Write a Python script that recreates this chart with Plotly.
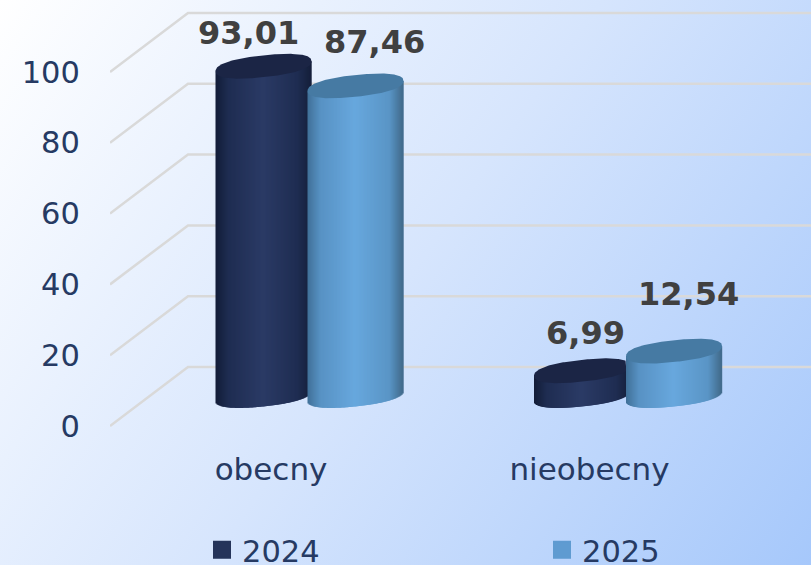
import base64
import numpy as np
import plotly.graph_objects as go

# --- data -------------------------------------------------------------
categories = ["obecny", "nieobecny"]
years = ["2024", "2025"]
values_2024 = [93.01, 6.99]
values_2025 = [87.46, 12.54]
y_ticks = [0, 20, 40, 60, 80, 100]

# --- style / layout constants ------------------------------------------
W, H = 811, 565
LEFT = 110
Y0_PX, PX_PER_UNIT = 426.0, 3.54
GROUP0_PX, GROUP_STEP_PX = 309.5, 318.5
FONT = "DejaVu Sans"
INK = "#263a63"
GRID = "#d9d9d9"
DEPTH_UNITS = 59 / PX_PER_UNIT      # back wall offset
BASE_UNITS = 30.5 / PX_PER_UNIT     # cylinder base offset
DEPTH_X = 78 / GROUP_STEP_PX
HALF_W = 48 / GROUP_STEP_PX
OFFSET = 46 / GROUP_STEP_PX
ELL_B = 10.9 / PX_PER_UNIT
ELL_K = 5.0 / PX_PER_UNIT
ELL_P = 0.85                        # slightly fuller than a true ellipse
CAT_SHIFT = -38.5 / GROUP_STEP_PX

RAMP_POS = [0, 0.14, 0.5, 0.86, 1]
STYLE = {
    "2024": dict(ramp=["#121c36", "#1f2d52", "#2b3b66", "#1f2d52", "#151f3b"], cap="#1b2545", key="#25345a"),
    "2025": dict(ramp=["#3f6f96", "#5892c4", "#68a8de", "#5a95c6", "#416a8a"], cap="#467aa3", key="#5f9bd1"),
}
LABEL_SHIFTS = {"2024": [(-15.5, 33), (3, 38)], "2025": [(19, 43.5), (14, 57.5)]}
LEGEND_LEFT_PX = {"2024": 202, "2025": 542}
LEGEND_MID_PX = 550

x_range = [(LEFT - GROUP0_PX) / GROUP_STEP_PX, (W - GROUP0_PX) / GROUP_STEP_PX]
y_range = [(Y0_PX - H) / PX_PER_UNIT, Y0_PX / PX_PER_UNIT]
plot_w = W - LEFT


def ramp_colors(ramp, u):
    rgb = np.array([[int(c[i:i + 2], 16) for i in (1, 3, 5)] for c in ramp], float)
    t = (u + 1) / 2
    return [
        "rgb(%d,%d,%d)" % tuple(np.interp(ti, RAMP_POS, rgb[:, k]) for k in range(3))
        for ti in t
    ]


fig = go.Figure()

# --- 3D grid: wall lines and side diagonals, behind the cylinders ------
shapes = []
for t in y_ticks:
    xa, xb, xc = x_range[0], x_range[0] + DEPTH_X, x_range[1]
    ya, yb = t, t + DEPTH_UNITS
    shapes.append(dict(type="path", xref="x", yref="y", layer="below",
                       path=f"M {xa} {ya} L {xb} {yb} L {xc} {yb}",
                       line=dict(color=GRID, width=2.5)))

# --- cylinders --------------------------------------------------------
series = [("2024", values_2024, -OFFSET), ("2025", values_2025, OFFSET)]
annotations = []
for i, cat in enumerate(categories):
    for year, vals, off in series:
        st = STYLE[year]
        val = vals[i]
        cx = i + off
        top = BASE_UNITS + val
        step = 1 / GROUP_STEP_PX
        strip = 2.2 * step
        xs = np.arange(cx - HALF_W + strip / 2, cx + HALF_W - strip / 2 + step / 2, step)
        u = (xs - cx) / HALF_W
        edge = np.clip(1 - np.abs(u) ** (2 / ELL_P), 0, 1) ** (ELL_P / 2)
        lower = BASE_UNITS + ELL_K * u - ELL_B * edge
        upper = top + ELL_K * u
        fig.add_trace(go.Bar(x=xs, y=upper - lower, base=lower, width=strip,
                             marker=dict(color=ramp_colors(st["ramp"], u), line=dict(width=0)),
                             hoverinfo="skip", showlegend=False))
        # top cap; stays behind a taller neighbour on its right
        t = np.linspace(0, 2 * np.pi, 241)
        c = np.sign(np.cos(t)) * np.abs(np.cos(t)) ** ELL_P
        s = np.sign(np.sin(t)) * np.abs(np.sin(t)) ** ELL_P
        ex = cx + HALF_W * c
        if year == "2024" and values_2025[i] > val:
            ex = np.minimum(ex, i + OFFSET - HALF_W)
        ey = top + ELL_K * c + ELL_B * s
        fig.add_trace(go.Scatter(x=ex, y=ey, mode="lines", fill="toself", fillcolor=st["cap"],
                                 line=dict(width=0), hoverinfo="skip", showlegend=False))
        dx, dy = LABEL_SHIFTS[year][i]
        annotations.append(dict(
            x=cx, y=top, xref="x", yref="y", xshift=dx, yshift=dy, showarrow=False,
            text=f"{val:.2f}".replace(".", ","), xanchor="center", yanchor="middle",
            font=dict(family=FONT, size=32, color="#404040", weight="bold"),
        ))

# --- legend keys, one legend per year so they can sit far apart --------
legend_boxes = {}
for n, year in enumerate(years):
    name = "legend" if n == 0 else f"legend{n + 1}"
    fig.add_trace(go.Scatter(x=[None], y=[None], mode="markers", name=year, legend=name,
                             marker=dict(symbol="square", size=16, color=STYLE[year]["key"],
                                         line=dict(width=2, color=STYLE[year]["key"]))))
    legend_boxes[name] = dict(
        x=(LEGEND_LEFT_PX[year] - LEFT) / plot_w, y=1 - LEGEND_MID_PX / H,
        xanchor="left", yanchor="middle", itemsizing="trace", bgcolor="rgba(0,0,0,0)",
        font=dict(family=FONT, size=30.5, color=INK))

# --- diagonal page background -----------------------------------------
svg = (f'<svg xmlns="http://www.w3.org/2000/svg" width="{W}" height="{H}">'
       f'<defs><linearGradient id="g" gradientUnits="userSpaceOnUse" x1="0" y1="0" x2="{W}" y2="{H}">'
       '<stop offset="0" stop-color="#ffffff"/><stop offset="0.5" stop-color="#d6e5fd"/>'
       '<stop offset="1" stop-color="#a6c8fb"/></linearGradient></defs>'
       f'<rect width="{W}" height="{H}" fill="url(#g)"/></svg>')
bg = "data:image/svg+xml;base64," + base64.b64encode(svg.encode()).decode()

fig.update_layout(
    width=W, height=H, autosize=False,
    margin=dict(l=LEFT, r=0, t=0, b=0, autoexpand=False),
    paper_bgcolor="white", plot_bgcolor="rgba(0,0,0,0)",
    barmode="overlay",
    font=dict(family=FONT, size=30.5, color=INK),
    images=[dict(source=bg, xref="paper", yref="paper", x=-LEFT / plot_w, y=1,
                 sizex=W / plot_w, sizey=1, xanchor="left", yanchor="top",
                 sizing="stretch", layer="below")],
    shapes=shapes,
    annotations=annotations,
    showlegend=True,
    xaxis=dict(range=x_range, showgrid=False, zeroline=False, showline=False,
               anchor="free", position=(H - 448) / H,
               tickmode="array", tickvals=[i + CAT_SHIFT for i in range(len(categories))],
               ticktext=categories, ticks="", automargin=False,
               tickfont=dict(family=FONT, size=31, color=INK)),
    yaxis=dict(range=y_range, showgrid=False, zeroline=False, showline=False,
               tickmode="array", tickvals=y_ticks, ticks="outside", ticklen=23,
               tickcolor="rgba(0,0,0,0)", automargin=False,
               tickfont=dict(family=FONT, size=30.5, color=INK)),
    **legend_boxes,
)

fig.write_html("out.html", config={"displayModeBar": False},
               post_script="document.body.style.margin='0';document.body.style.overflow='hidden';")
